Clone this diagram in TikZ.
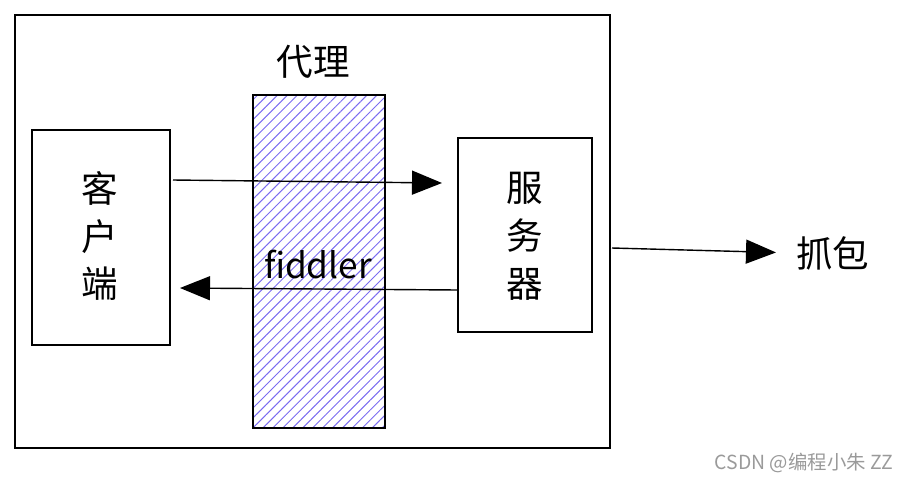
\documentclass[tikz,border=0pt]{standalone}
\usepackage{fontspec}
\setmainfont{Noto Sans CJK SC}
\usepackage{xcolor}
\usetikzlibrary{arrows.meta, patterns.meta}
\definecolor{hatchblue}{HTML}{7B6CF0}
\definecolor{marktext}{HTML}{9A9A9A}

\begin{document}
\begin{tikzpicture}[x=0.025cm, y=-0.025cm,
    box/.style={draw=black, line width=1.4pt},
    word/.style={font=\fontsize{26}{34}\selectfont, align=center},
    arrow/.style={-{Triangle[length=0.75cm, width=0.6cm]}, line width=1pt}
]
\useasboundingbox (0,0) rectangle (909,482);

\draw[box] (15,15) rectangle (610,448);

% proxy
\path[pattern={Lines[angle=45, distance=5pt, line width=0.7pt]}, pattern color=hatchblue]
    (253,95) rectangle (385,428);
\draw[line width=1.2pt] (253,95) rectangle (385,428);
\node[word] (proxy) at (313,62) {代理};

\draw[box] (32,130) rectangle (170,345);
\node[word] (client) at (100,236) {客\\户\\端};

\draw[box] (458,138) rectangle (592,332);
\node[word] (server) at (525,236) {服\\务\\器};

\node[word, font=\fontsize{25}{30}\selectfont, inner sep=0pt] (fiddler) at (318,265) {fiddler};
\node[word, anchor=west, inner sep=0pt] (capture) at (796,253) {抓包};

\coordinate (c1) at (173,180);
\coordinate (s1) at (442,183);
\coordinate (s2) at (458,290);
\coordinate (c2) at (180,288);
\coordinate (o1) at (612,248);
\draw[arrow] (c1) -- (s1);
\draw[arrow] (s2) -- (c2);
\draw[arrow, shorten >=0.5cm] (o1) -- (capture.west);

\node[font=\fontsize{13.8}{16}\selectfont, text=marktext] (mark) at (804,463) {CSDN @编程小朱 ZZ};
\end{tikzpicture}
\end{document}
